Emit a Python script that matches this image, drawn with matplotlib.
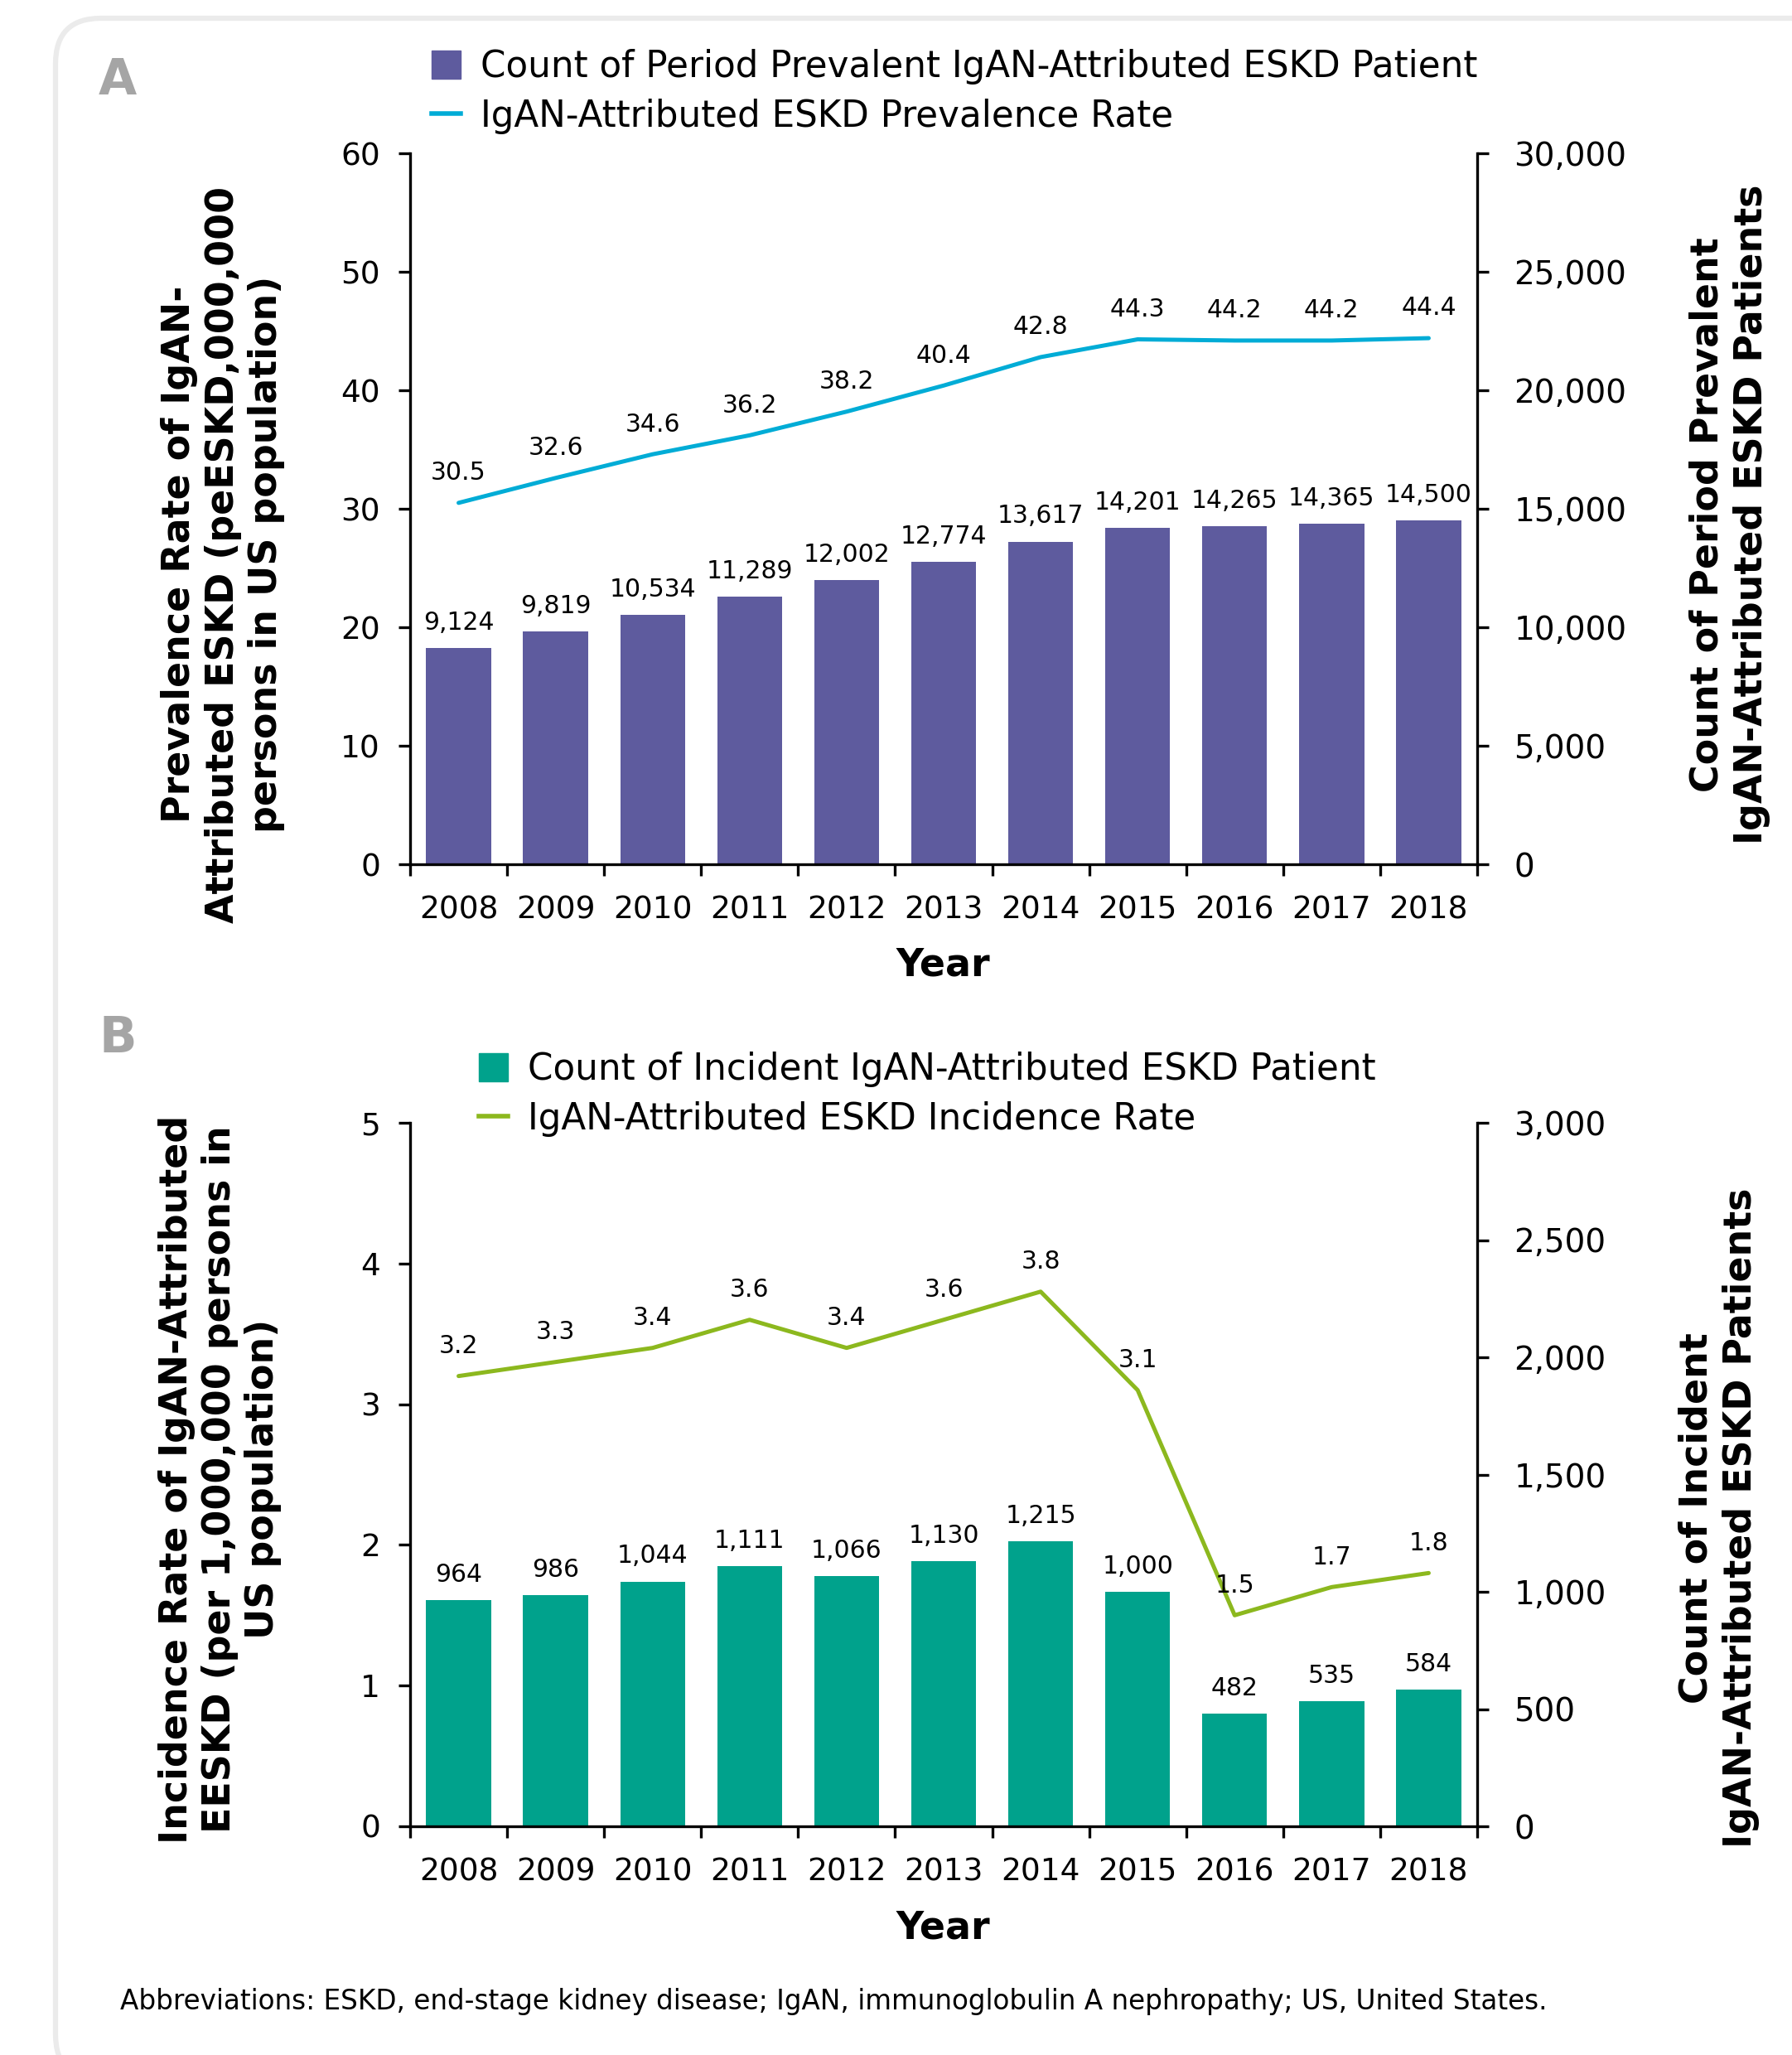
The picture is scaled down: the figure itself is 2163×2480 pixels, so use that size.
import matplotlib
matplotlib.use("Agg")
import matplotlib.pyplot as plt
import numpy as np
from matplotlib.patches import FancyBboxPatch, Patch
from matplotlib.lines import Line2D

years = ["2008", "2009", "2010", "2011", "2012", "2013", "2014", "2015", "2016", "2017", "2018"]

# Panel A: prevalence
prev_count = [9124, 9819, 10534, 11289, 12002, 12774, 13617, 14201, 14265, 14365, 14500]
prev_rate = [30.5, 32.6, 34.6, 36.2, 38.2, 40.4, 42.8, 44.3, 44.2, 44.2, 44.4]

# Panel B: incidence
inc_count = [964, 986, 1044, 1111, 1066, 1130, 1215, 1000, 482, 535, 584]
inc_rate = [3.2, 3.3, 3.4, 3.6, 3.4, 3.6, 3.8, 3.1, 1.5, 1.7, 1.8]

PURPLE = "#5e5b9e"
CYAN = "#00acd6"
TEAL = "#00a28c"
GREEN = "#8cb81e"

plt.rcParams["font.family"] = ["DejaVu Sans"]
W, H = 2163, 2480
fig = plt.figure(figsize=(W / 100, H / 100), dpi=100)

# rounded card behind everything
card = FancyBboxPatch((0.67, -0.3), 22.0, 24.88, boxstyle="round,pad=0,rounding_size=0.55",
                      transform=fig.dpi_scale_trans, facecolor="white",
                      edgecolor="#ebebeb", linewidth=4.5, zorder=-10)
fig.patches.append(card)

x = np.arange(len(years))
TICK_FS = 27
LBL_FS = 21.5
AXLBL_FS = 33
LEG_FS = 31.4


def fx(px):
    return px / W


def fy(py):
    return 1 - py / H


def panel(top_px, bottom_px, counts, rates, bar_color, line_color,
          rate_max, rate_step, count_max, count_step):
    ax = fig.add_axes([fx(495), fy(bottom_px), fx(1783) - fx(495), (bottom_px - top_px) / H])
    ax2 = ax.twinx()
    ax2.bar(x, counts, width=0.67, color=bar_color, zorder=2)
    ax.plot(x, rates, color=line_color, lw=3.6, solid_capstyle="round", zorder=3)
    ax.set_zorder(ax2.get_zorder() + 1)
    ax.patch.set_visible(False)

    ax.set_xlim(-0.5, len(years) - 0.5)
    ax.set_ylim(0, rate_max)
    ax2.set_ylim(0, count_max)
    ax.set_yticks(np.arange(0, rate_max + 0.001, rate_step))
    ax.set_yticklabels([f"{v:g}" for v in np.arange(0, rate_max + 0.001, rate_step)])
    ax2.set_yticks(np.arange(0, count_max + 1, count_step))
    ax2.set_yticklabels([f"{int(v):,}" for v in np.arange(0, count_max + 1, count_step)])

    # category boundaries carry the ticks, labels sit at centres
    ax.set_xticks(np.arange(-0.5, len(years), 1.0))
    ax.set_xticklabels([])
    ax.set_xticks(x, minor=True)
    ax.set_xticklabels(years, minor=True)
    ax.tick_params(axis="x", which="minor", length=0, labelsize=TICK_FS, pad=27)
    ax.tick_params(axis="x", which="major", length=10, width=2.4, direction="out")
    ax.tick_params(axis="y", length=10, width=2.4, labelsize=TICK_FS, pad=16)
    ax2.tick_params(axis="y", length=10, width=2.4, labelsize=TICK_FS + 1, pad=22)

    for a in (ax, ax2):
        a.spines["top"].set_visible(False)
        for s in ("left", "right", "bottom"):
            a.spines[s].set_linewidth(2.4)
    ax.spines["right"].set_visible(False)
    ax2.spines["left"].set_visible(False)
    ax2.spines["bottom"].set_visible(False)

    for xi, r in zip(x, rates):
        ax.annotate(f"{r:.1f}", (xi, r), xytext=(0, 26), textcoords="offset points",
                    ha="center", va="center", fontsize=LBL_FS)
    for xi, c in zip(x, counts):
        ax2.annotate(f"{c:,}", (xi, c), xytext=(0, 22), textcoords="offset points",
                     ha="center", va="center", fontsize=LBL_FS)
    return ax, ax2


def legend(handles, labels, x_px, y_px):
    fig.legend(handles, labels, loc="upper left", bbox_to_anchor=(fx(x_px), fy(y_px)),
               frameon=False, fontsize=LEG_FS, handlelength=0.8, handleheight=0.8,
               handletextpad=0.55, labelspacing=0.39, borderpad=0, borderaxespad=0)


# ---- Panel A ----
axA, axA2 = panel(185, 1043, prev_count, prev_rate, PURPLE, CYAN, 60, 10, 30000, 5000)
fig.text(fx(142), fy(98), "A", fontsize=43, fontweight="bold", color="#a5a5a5",
         ha="center", va="center")
legend([Patch(color=PURPLE), Line2D([], [], color=CYAN, lw=4)],
       ["Count of Period Prevalent IgAN-Attributed ESKD Patient",
        "IgAN-Attributed ESKD Prevalence Rate"], 521, 59)
fig.text(fx(269), fy(669),
         "Prevalence Rate of IgAN-\nAttributed ESKD (peESKD,000,000\npersons in US population)",
         rotation=90, ha="center", va="center", ma="center", fontsize=AXLBL_FS,
         fontweight="bold", linespacing=1.2)
fig.text(fx(2088), fy(621), "Count of Period Prevalent\nIgAN-Attributed ESKD Patients",
         rotation=90, ha="center", va="center", ma="center", fontsize=AXLBL_FS,
         fontweight="bold", linespacing=1.25)
fig.text(fx(1138), fy(1165), "Year", fontsize=AXLBL_FS, fontweight="bold",
         ha="center", va="center")

# ---- Panel B ----
axB, axB2 = panel(1355, 2204, inc_count, inc_rate, TEAL, GREEN, 5, 1, 3000, 500)
fig.text(fx(142), fy(1254), "B", fontsize=43, fontweight="bold", color="#a5a5a5",
         ha="center", va="center")
legend([Patch(color=TEAL), Line2D([], [], color=GREEN, lw=4)],
       ["Count of Incident IgAN-Attributed ESKD Patient",
        "IgAN-Attributed ESKD Incidence Rate"], 578, 1269)
fig.text(fx(266), fy(1785),
         "Incidence Rate of IgAN-Attributed\nEESKD (per 1,000,000 persons in\nUS population)",
         rotation=90, ha="center", va="center", ma="center", fontsize=AXLBL_FS,
         fontweight="bold", linespacing=1.2)
fig.text(fx(2075), fy(1832), "Count of Incident\nIgAN-Attributed ESKD Patients",
         rotation=90, ha="center", va="center", ma="center", fontsize=AXLBL_FS,
         fontweight="bold", linespacing=1.25)
fig.text(fx(1138), fy(2327), "Year", fontsize=AXLBL_FS, fontweight="bold",
         ha="center", va="center")

fig.text(fx(145), fy(2416),
         "Abbreviations: ESKD, end-stage kidney disease; IgAN, immunoglobulin A nephropathy; US, United States.",
         fontsize=23.5, ha="left", va="center")

fig.savefig("out.png", dpi=100)
